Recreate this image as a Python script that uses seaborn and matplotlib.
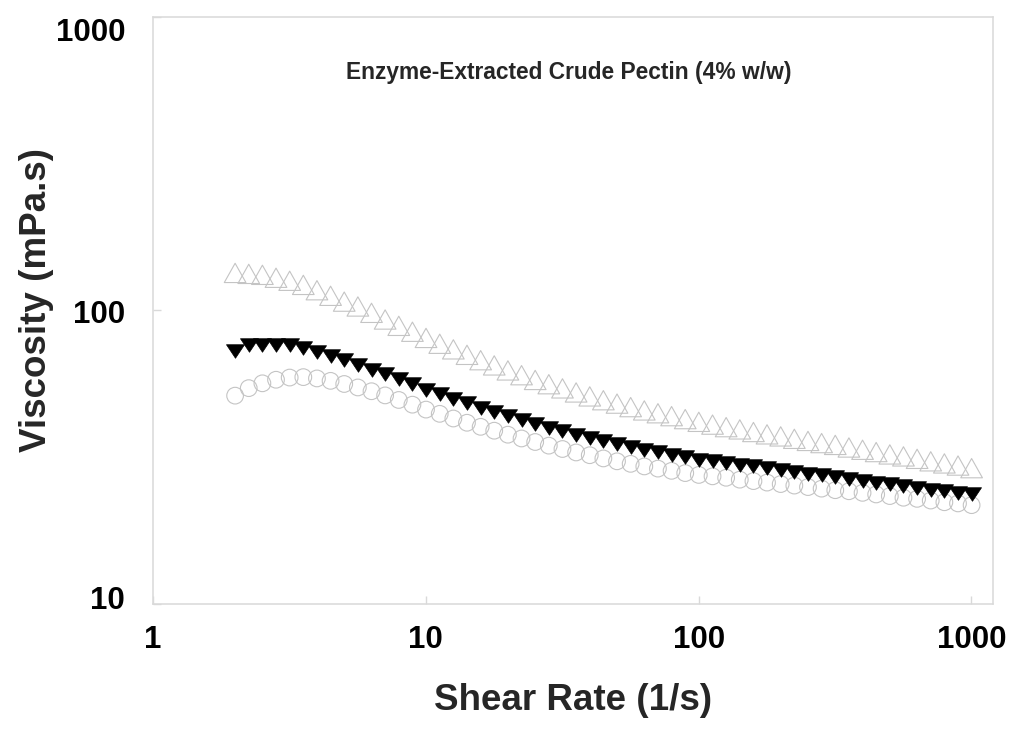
import numpy as np
import pandas as pd
import matplotlib
matplotlib.use("Agg")
import matplotlib.pyplot as plt
import matplotlib.transforms as mtransforms
from matplotlib.path import Path
import seaborn as sns

sns.set_theme(style="ticks")
plt.rcParams['font.family'] = ['Liberation Sans', 'DejaVu Sans']

# shear rate (1/s), 20 points per decade from 2 to 1000
shear = [2.00, 2.244, 2.518, 2.825, 3.170, 3.557, 3.991, 4.477, 5.024, 5.637,
         6.325, 7.096, 7.962, 8.934, 10.02, 11.25, 12.62, 14.16, 15.89, 17.82,
         20.0, 22.44, 25.18, 28.25, 31.70, 35.57, 39.91, 44.77, 50.24, 56.37,
         63.25, 70.96, 79.62, 89.34, 100.2, 112.5, 126.2, 141.6, 158.9, 178.2,
         200.0, 224.4, 251.8, 282.5, 317.0, 355.7, 399.1, 447.7, 502.4, 563.7,
         632.5, 709.6, 796.2, 893.4, 1002.0]

# viscosity (mPa.s), open triangles
visc_up = [134, 133, 132, 129, 126, 122, 117, 112, 107, 103,
           98, 93, 88.5, 84.5, 80.5, 76.9, 73.6, 70.5, 67.6, 64.9,
           62.4, 60.1, 57.9, 56.0, 54.2, 52.5, 50.9, 49.4, 48.1, 46.8,
           45.6, 44.6, 43.6, 42.6, 41.7, 40.8, 40.0, 39.3, 38.5, 37.8,
           37.2, 36.5, 35.9, 35.3, 34.8, 34.1, 33.5, 32.9, 32.3, 31.8,
           31.2, 30.6, 30.1, 29.6, 29.0]

# viscosity (mPa.s), filled down triangles
visc_down = [72.6, 75.9, 76.3, 76.3, 75.9, 74.6, 72.3, 69.9, 67.5, 65.2,
             62.8, 60.5, 58.2, 55.9, 53.7, 51.8, 49.9, 48.2, 46.6, 45.1,
             43.6, 42.3, 41.0, 39.8, 38.7, 37.7, 36.7, 35.8, 35.0, 34.2,
             33.5, 32.8, 32.2, 31.6, 31.0, 30.6, 30.2, 29.8, 29.4, 29.0,
             28.6, 28.2, 27.8, 27.4, 27.0, 26.7, 26.3, 25.9, 25.6, 25.2,
             24.9, 24.5, 24.2, 23.9, 23.6]

# viscosity (mPa.s), open circles
visc_circ = [51.2, 54.3, 56.4, 58.0, 59.0, 59.2, 58.6, 57.5, 56.1, 54.6,
             53.0, 51.3, 49.5, 47.7, 45.9, 44.4, 42.8, 41.4, 40.1, 38.9,
             37.7, 36.6, 35.6, 34.6, 33.7, 32.8, 32.1, 31.3, 30.6, 30.0,
             29.4, 28.9, 28.4, 27.9, 27.5, 27.2, 26.9, 26.5, 26.2, 25.9,
             25.6, 25.3, 25.0, 24.7, 24.4, 24.2, 23.9, 23.6, 23.3, 23.0,
             22.8, 22.5, 22.2, 22.0, 21.7]

xticks = [1, 10, 100, 1000]
xticklabels = ["1", "10", "100", "1000"]
yticks = [10, 100, 1000]
yticklabels = ["10", "100", "1000"]

df = pd.DataFrame({"shear": shear, "up": visc_up, "down": visc_down, "circ": visc_circ})

tri_up = Path([(0, 0.89), (-1, -0.89), (1, -0.89), (0, 0.89)],
              [Path.MOVETO, Path.LINETO, Path.LINETO, Path.CLOSEPOLY])
tri_down = Path([(-1, 0.75), (1, 0.75), (0, -0.75), (-1, 0.75)],
                [Path.MOVETO, Path.LINETO, Path.LINETO, Path.CLOSEPOLY])

fig = plt.figure(figsize=(10.24, 7.38), dpi=100)
ax = fig.add_axes([0.1494, 0.1816, 0.8203, 0.7960])

gray = "#c4c4c4"
sns.scatterplot(data=df, x="shear", y="up", marker=tri_up, s=15.6 ** 2,
                color="white", edgecolor=gray, linewidth=0.8, ax=ax)
ax.collections[-1].set_facecolor("none")
sns.scatterplot(data=df, x="shear", y="circ", marker="o", s=12 ** 2,
                color="white", edgecolor=gray, linewidth=0.8, ax=ax)
ax.collections[-1].set_facecolor("none")
sns.scatterplot(data=df, x="shear", y="down", marker=tri_down, s=13 ** 2,
                color="black", edgecolor="black", linewidth=0.5, ax=ax)

ax.set_xscale("log")
ax.set_yscale("log")
ax.set_xlim(1, 1200)
ax.set_ylim(10, 1000)
ax.set_xticks(xticks)
ax.set_xticklabels(xticklabels)
ax.set_yticks(yticks)
ax.set_yticklabels(yticklabels)
ax.minorticks_off()
ax.tick_params(direction="in", length=6, width=1, color="#d9d9d9",
               labelsize=22.5, labelcolor="black")
ax.tick_params(axis="x", pad=15)
ax.tick_params(axis="y", pad=20)
for lab in ax.get_xticklabels() + ax.get_yticklabels():
    lab.set_fontweight("bold")
# excel-like placement of the y labels (shifted in pixels)
for lab, dy in zip(ax.get_yticklabels(), [6, -1, -13]):
    lab.set_transform(lab.get_transform() +
                      mtransforms.ScaledTranslation(0, dy / 100, fig.dpi_scale_trans))
for sp in ax.spines.values():
    sp.set_visible(True)
    sp.set_color("#d9d9d9")
    sp.set_linewidth(1.1)

ax.set_xlabel("")
ax.set_ylabel("")
fig.text(573 / 1024, 1 - 700 / 738, "Shear Rate (1/s)", ha="center", va="center",
         fontsize=26.5, fontweight="bold")
fig.text(37 / 1024, 1 - 300 / 738, "Viscosity (mPa.s)", ha="center", va="center",
         rotation=90, fontsize=26.5, fontweight="bold")
fig.text(569 / 1024, 1 - 73 / 738, "Enzyme-Extracted Crude Pectin (4% w/w)",
         ha="center", va="center", fontsize=16.4, fontweight="bold")

fig.savefig("out.png", dpi=100)
